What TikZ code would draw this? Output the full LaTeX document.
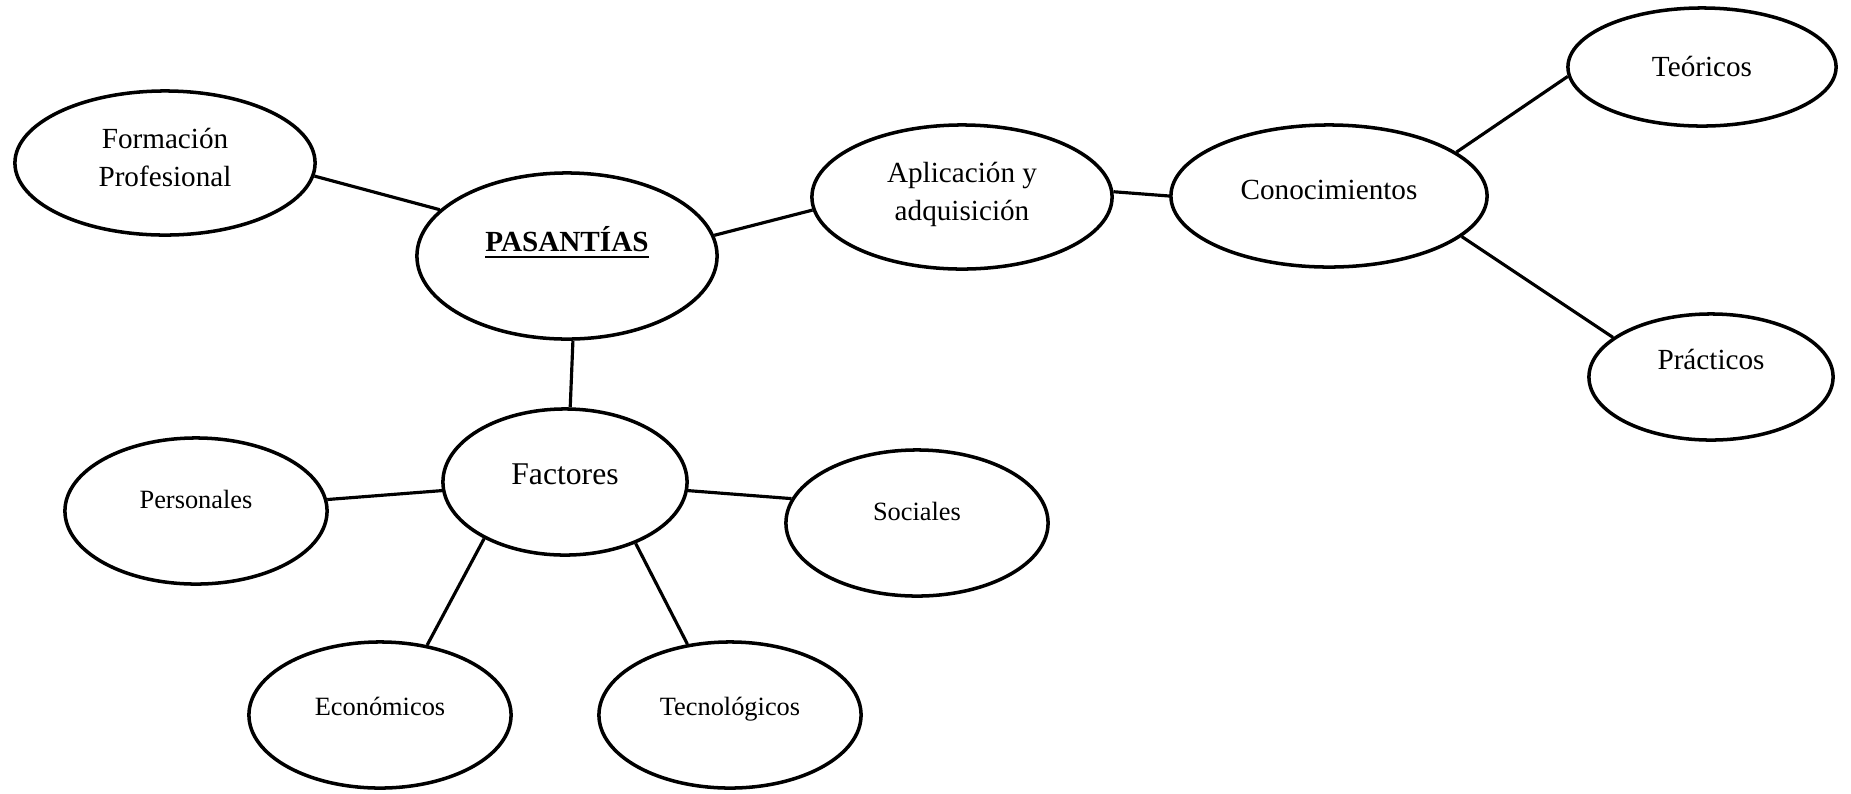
\documentclass[tikz,border=0pt]{standalone}
\usepackage{fontspec}
\setmainfont{Liberation Serif}
\usetikzlibrary{shapes.geometric}

\begin{document}
\begin{tikzpicture}[x=0.01cm, y=-0.01cm,
    blob/.style={ellipse, draw, line width=1pt, inner sep=0pt,
        font=\fontsize{8.3}{10.8}\selectfont},
    small/.style={font=\fontsize{7.5}{9}\selectfont},
    lift/.style={text height=1.5ex, text depth=#1},
    link/.style={line width=0.9pt}]
    \useasboundingbox (0,0) rectangle (1851,793);

    \node (Formacion) [blob, align=center, text depth=1.2mm, minimum width=3cm, minimum height=1.44cm] at (165,163) {Formación\\Profesional};
    \node (Pasantias) [blob, lift=3.3mm, minimum width=3cm, minimum height=1.66cm] at (567,256) {\underline{\textbf{PASANTÍAS}}};
    \node (Aplicacion) [blob, align=center, text depth=1.2mm, minimum width=3cm, minimum height=1.44cm] at (962,197) {Aplicación y\\adquisición};
    \node (Conocimientos) [blob, lift=1.7mm, minimum width=3.16cm, minimum height=1.42cm] at (1329,196) {Conocimientos};
    \node (Teoricos) [blob, lift=0.5mm, minimum width=2.68cm, minimum height=1.18cm] at (1702,67) {Teóricos};
    \node (Practicos) [blob, lift=3.9mm, minimum width=2.44cm, minimum height=1.26cm] at (1711,377) {Prácticos};
    \node (Factores) [blob, lift=2mm, font=\fontsize{9}{11}\selectfont, minimum width=2.44cm, minimum height=1.46cm] at (565,482) {Factores};
    \node (Personales) [blob, small, lift=2.9mm, minimum width=2.62cm, minimum height=1.46cm] at (196,511) {Personales};
    \node (Sociales) [blob, small, lift=2.9mm, minimum width=2.62cm, minimum height=1.46cm] at (917,523) {Sociales};
    \node (Economicos) [blob, small, lift=2.3mm, minimum width=2.62cm, minimum height=1.46cm] at (380,715) {Económicos};
    \node (Tecnologicos) [blob, small, lift=2.3mm, minimum width=2.62cm, minimum height=1.46cm] at (730,715) {Tecnológicos};

    \path[link]
        (Formacion.355) edge (Pasantias.160)
        (Pasantias.8) edge (Aplicacion.185)
        (Aplicacion.2) edge (Conocimientos.180)
        (Conocimientos.19) edge (Teoricos.184)
        (Conocimientos.343) edge (Practicos.158)
        (Pasantias.274) edge (Factores.86)
        (Factores.184) edge (Personales.5)
        (Factores.356) edge (Sociales.169)
        (Factores.215) edge (Economicos.56)
        (Factores.319) edge (Tecnologicos.121);
\end{tikzpicture}
\end{document}
